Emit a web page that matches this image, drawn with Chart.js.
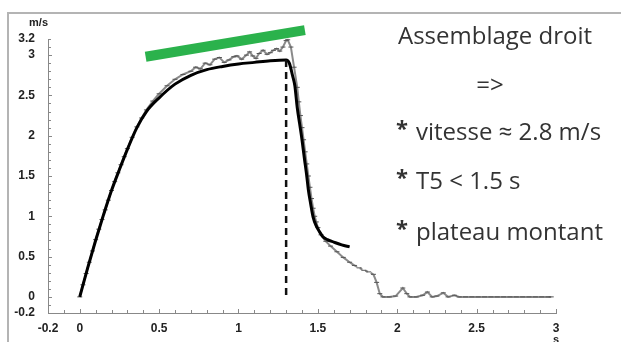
<!DOCTYPE html>
<html>
<head>
<meta charset="utf-8">
<script src="https://cdn.jsdelivr.net/npm/chart.js@4"></script>
<style>
  html, body { margin: 0; padding: 0; background: #fff; }
  #wrap { width: 621px; height: 342px; position: relative; }
</style>
</head>
<body>
<div id="wrap"><canvas id="c"></canvas></div>
<script>
// measured speed (gray, with markers)
const measT = [0, 0.02, 0.04, 0.06, 0.08, 0.1, 0.12, 0.14, 0.16, 0.18, 0.2, 0.22, 0.24, 0.26, 0.28, 0.3,
  0.33, 0.36, 0.39, 0.42, 0.46, 0.5, 0.55, 0.6, 0.65, 0.7, 0.73, 0.76, 0.79, 0.82, 0.85, 0.88, 0.91, 0.94,
  0.97, 0.99, 1.02, 1.05, 1.07, 1.09, 1.11, 1.13, 1.155, 1.18, 1.2, 1.22, 1.24, 1.26, 1.28, 1.3, 1.31,
  1.33, 1.35, 1.37, 1.38, 1.39, 1.4, 1.41, 1.42, 1.43, 1.44, 1.45, 1.46, 1.47, 1.48, 1.49, 1.5, 1.52,
  1.55, 1.58, 1.62, 1.66, 1.7, 1.73, 1.76, 1.79, 1.82, 1.85, 1.87, 1.89, 1.91, 1.95, 1.99, 2.035, 2.06,
  2.08, 2.12, 2.16, 2.19, 2.22, 2.25, 2.29, 2.32, 2.36, 2.39, 2.43, 2.47, 2.51, 2.55, 2.59, 2.63, 2.67,
  2.71, 2.75, 2.79, 2.83, 2.87, 2.91, 2.95, 2.97];
const measV = [0, 0.15, 0.29, 0.43, 0.57, 0.71, 0.84, 0.96, 1.08, 1.2, 1.32, 1.43, 1.54, 1.64, 1.74, 1.84,
  1.98, 2.11, 2.22, 2.32, 2.43, 2.52, 2.62, 2.7, 2.76, 2.8, 2.85, 2.83, 2.9, 2.88, 2.95, 2.97, 2.91, 2.94,
  2.98, 2.99, 2.95, 3.0, 3.04, 2.99, 2.96, 3.02, 3.06, 3.01, 3.03, 3.06, 3.08, 3.05, 3.1, 3.18, 3.19,
  3.1, 2.85, 2.6, 2.42, 2.25, 2.1, 1.95, 1.8, 1.65, 1.5, 1.36, 1.22, 1.1, 1.0, 0.93, 0.86, 0.77,
  0.69, 0.63, 0.56, 0.49, 0.43, 0.39, 0.36, 0.33, 0.31, 0.28, 0.18, 0.04, 0, 0, 0.01, 0.11, 0.04,
  0, 0, 0.02, 0.06, 0, 0.01, 0.05, 0, 0.02, 0, 0, 0, 0, 0, 0, 0, 0,
  0, 0, 0, 0, 0, 0, 0, 0];

// model speed (black)
const modelT = [0, 0.05, 0.1, 0.15, 0.2, 0.25, 0.3, 0.36, 0.42, 0.5, 0.6, 0.7, 0.8, 0.9, 1.0, 1.1, 1.2,
  1.3, 1.32, 1.34, 1.355, 1.37, 1.385, 1.4, 1.415, 1.43, 1.44, 1.455, 1.47, 1.49, 1.51, 1.53, 1.56, 1.6,
  1.65, 1.7];
const modelV = [0, 0.36, 0.7, 1.02, 1.32, 1.58, 1.83, 2.1, 2.3, 2.47, 2.64, 2.75, 2.82, 2.86, 2.89, 2.91, 2.93,
  2.94, 2.9, 2.75, 2.62, 2.35, 2.15, 1.95, 1.72, 1.5, 1.33, 1.15, 0.99, 0.88, 0.81, 0.75, 0.71, 0.68,
  0.645, 0.62];

// T5 marker and rising plateau trend
const t5 = [[1.3, 2.94], [1.3, 0]];
const trend = [[0.415, 2.98], [1.418, 3.31]];

const xTicks = [-0.2, 0, 0.5, 1, 1.5, 2, 2.5, 3];
const yTicks = [-0.2, 0, 0.5, 1, 1.5, 2, 2.5, 3, 3.2];

const notes = ['Assemblage droit', '=>', 'vitesse \u2248 2.8 m/s', 'T5 < 1.5 s', 'plateau montant'];

const pts = (xs, ys) => xs.map((x, i) => ({x: x, y: ys[i]}));
const tickFont = {family: 'Liberation Sans, Arial, sans-serif', size: 12, weight: 'bold'};

const decor = {
  id: 'decor',
  beforeDraw(chart) {
    const ctx = chart.ctx;
    ctx.save();
    ctx.strokeStyle = '#b4b4b4';
    ctx.lineWidth = 2;
    ctx.beginPath();
    ctx.moveTo(8, 342);
    ctx.lineTo(8, 13);
    ctx.lineTo(621, 13);
    ctx.stroke();
    ctx.restore();
  },
  afterDraw(chart) {
    const ctx = chart.ctx;
    const xs = chart.scales.x, ys = chart.scales.y;
    const a = chart.chartArea;
    ctx.save();
    // inward minor ticks
    ctx.strokeStyle = '#888';
    ctx.lineWidth = 1;
    ctx.beginPath();
    for (let i = -2; i <= 30; i++) {
      const px = Math.round(xs.getPixelForValue(i / 10)) + 0.5;
      const len = i % 5 === 0 ? 4 : 3;
      ctx.moveTo(px, a.bottom);
      ctx.lineTo(px, a.bottom - len);
    }
    for (let i = -2; i <= 32; i++) {
      const py = Math.round(ys.getPixelForValue(i / 10)) + 0.5;
      const len = i % 5 === 0 ? 4 : 3;
      ctx.moveTo(a.left, py);
      ctx.lineTo(a.left + len, py);
    }
    ctx.stroke();
    // unit labels
    ctx.fillStyle = '#222';
    ctx.font = 'bold 11px Liberation Sans, Arial, sans-serif';
    ctx.textAlign = 'right';
    ctx.textBaseline = 'middle';
    ctx.fillText('m/s', 48, 23);
    ctx.textAlign = 'center';
    ctx.fillText('s', xs.getPixelForValue(3), 340);
    // notes
    ctx.fillStyle = '#333';
    ctx.textAlign = 'left';
    ctx.font = '24px Open Sans, sans-serif';
    ctx.fillText(notes[0], 398, 37);
    ctx.textAlign = 'center';
    ctx.fillText(notes[1], 490, 86);
    ctx.textAlign = 'left';
    const rows = [[notes[2], 133], [notes[3], 182], [notes[4], 233]];
    rows.forEach(r => {
      ctx.font = 'bold 22px Open Sans, sans-serif';
      ctx.fillText('*', 396, r[1] - 3);
      ctx.font = '24px Open Sans, sans-serif';
      ctx.fillText(r[0], 416, r[1]);
    });
    ctx.restore();
  }
};

new Chart(document.getElementById('c'), {
  type: 'line',
  data: {
    datasets: [
      {
        data: trend.map(p => ({x: p[0], y: p[1]})),
        borderColor: '#2bb24c',
        borderWidth: 10,
        borderCapStyle: 'butt',
        pointRadius: 0,
        clip: false,
        order: 3
      },
      {
        data: pts(measT, measV),
        borderColor: '#8a8a8a',
        borderWidth: 2,
        pointStyle: 'line',
        pointRadius: 2.5,
        pointBorderColor: '#555',
        pointBorderWidth: 1,
        tension: 0,
        segment: {
          borderDash: c => (c.p0.parsed.x >= 1.72 && c.p1.parsed.x <= 1.86) ? [3, 3] : undefined
        },
        clip: false,
        order: 2
      },
      {
        data: pts(modelT, modelV),
        borderColor: '#000',
        borderWidth: 3,
        pointRadius: 0,
        cubicInterpolationMode: 'monotone',
        order: 1
      },
      {
        data: t5.map(p => ({x: p[0], y: p[1]})),
        borderColor: '#111',
        borderWidth: 2.5,
        borderDash: [7, 5],
        pointRadius: 0,
        order: 0
      }
    ]
  },
  options: {
    responsive: true,
    maintainAspectRatio: false,
    animation: false,
    layout: {padding: {top: 39, right: 65, left: 0, bottom: 0}},
    plugins: {legend: {display: false}, tooltip: {enabled: false}},
    scales: {
      x: {
        type: 'linear',
        min: -0.2,
        max: 3,
        afterBuildTicks: s => { s.ticks = xTicks.map(v => ({value: v})); },
        afterFit: s => { s.height = 29; },
        grid: {display: false},
        border: {display: true, color: '#888', width: 1},
        ticks: {font: tickFont, color: '#222', padding: 0, maxRotation: 0, autoSkip: false,
          callback: v => String(v)}
      },
      y: {
        type: 'linear',
        min: -0.2,
        max: 3.2,
        afterBuildTicks: s => { s.ticks = yTicks.map(v => ({value: v})); },
        afterFit: s => { s.width = 48; },
        grid: {display: false},
        border: {display: true, color: '#888', width: 1},
        ticks: {font: tickFont, color: '#222', padding: 5, autoSkip: false,
          callback: v => String(v)}
      }
    }
  },
  plugins: [decor]
});
</script>
</body>
</html>
